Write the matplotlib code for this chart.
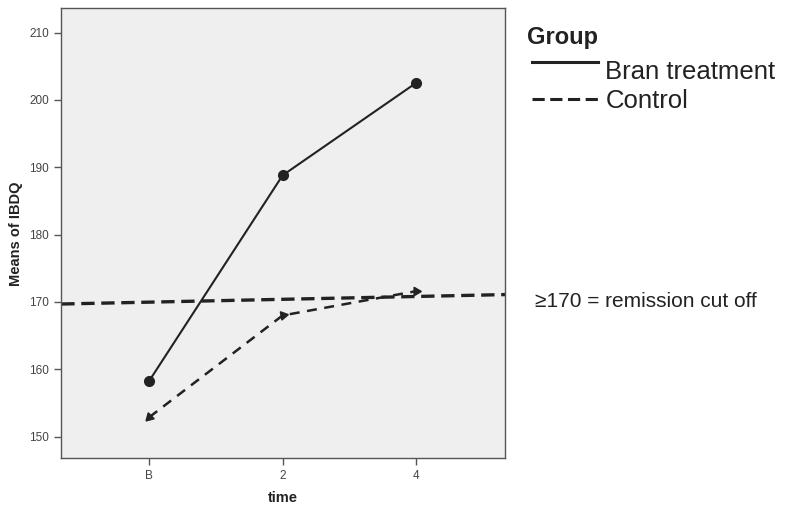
import numpy as np
import matplotlib
matplotlib.use('Agg')
import matplotlib.pyplot as plt
from matplotlib.lines import Line2D

plt.rcParams['font.family'] = ['Liberation Sans', 'DejaVu Sans']

# --- Data ---
time_labels = ['B', '2', '4']
bran_means = [158.3, 188.8, 202.5]
control_means = [152.9, 168.0, 171.6]
cutoff_x = [-0.66, 2.67]
cutoff_y = [169.7, 171.1]
y_ticks = [150, 160, 170, 180, 190, 200, 210]

x = np.arange(len(time_labels))
ink = '#222222'

fig = plt.figure(figsize=(8, 5.14), dpi=100, facecolor='white')
ax = fig.add_axes([0.07625, 0.1084, 0.555, 0.8755])
ax.set_facecolor('#efefef')

# remission cut-off line
ax.plot(cutoff_x, cutoff_y, color=ink, lw=2.4, dashes=(4, 2), zorder=2)

# Bran treatment: solid line with circles
ax.plot(x, bran_means, color=ink, lw=1.5, marker='o', markersize=7, zorder=3)

# Control: dashed line, triangle "arrowheads"
ax.plot(x, control_means, color=ink, lw=1.8, dashes=(4, 3), zorder=3)
ctrl_markers = [(3, 0, 135), (3, 0, -80), (3, 0, -90)]
for xi, yi, m in zip(x, control_means, ctrl_markers):
    ax.plot(xi, yi, marker=m, markersize=7, color=ink, linestyle='none', zorder=4)

ax.set_xlim(-0.662, 2.668)
ax.set_ylim(146.8, 213.6)
ax.set_xticks(x)
ax.set_xticklabels(time_labels)
ax.set_yticks(y_ticks)
ax.tick_params(axis='both', direction='out', length=5, width=1, color='#555555',
               labelcolor='#444444', labelsize=8.5)
for sp in ax.spines.values():
    sp.set_color('#555555')
    sp.set_linewidth(1)

ax.set_xlabel('time', fontsize=10.5, fontweight='bold', color=ink)
ax.set_ylabel('Means of IBDQ', fontsize=10.5, fontweight='bold', color=ink)
ax.xaxis.set_label_coords(0.5, -0.072)
ax.yaxis.set_label_coords(-0.086, 0.5)

# --- Manual legend on the right (pixel coords -> figure fraction) ---
W, H = 800, 514
def fx(px):
    return px / W
def fy(py):
    return 1 - py / H

fig.text(fx(527), fy(44), 'Group', fontsize=17, fontweight='bold', color=ink, va='baseline')
fig.add_artist(Line2D([fx(532), fx(598)], [fy(62), fy(62)], color=ink, lw=2.2))
fig.text(fx(605), fy(79), 'Bran treatment', fontsize=18.5, color=ink, va='baseline')
fig.add_artist(Line2D([fx(532), fx(598)], [fy(99), fy(99)], color=ink, lw=2.2, dashes=(4, 1.8)))
fig.text(fx(606), fy(108), 'Control', fontsize=18.5, color=ink, va='baseline')

fig.text(fx(535), fy(307), '\u2265170 = remission cut off', fontsize=15, color=ink, va='baseline')

fig.savefig('out.png', dpi=100, facecolor='white')
